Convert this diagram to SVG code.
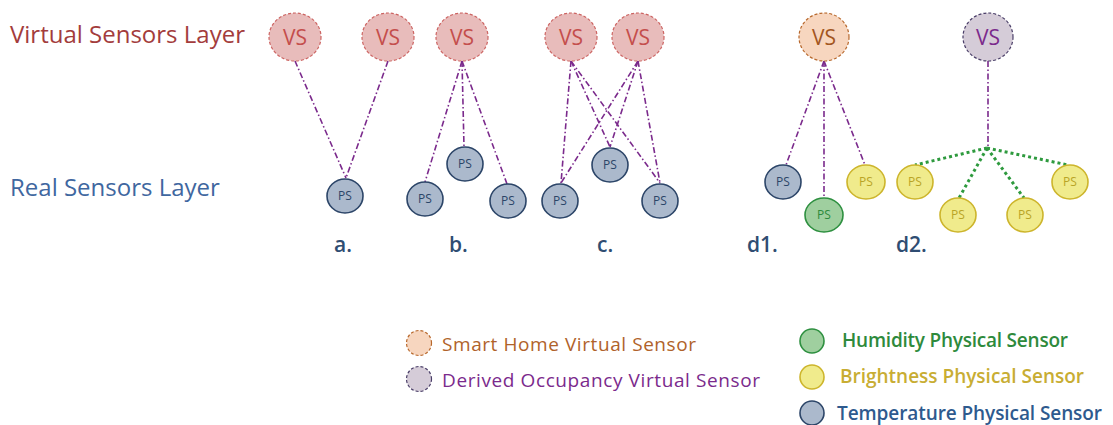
<svg xmlns="http://www.w3.org/2000/svg" width="1113" height="425" viewBox="0 0 1113 425">
<style>
text{font-family:"Open Sans","Liberation Sans",sans-serif}
.vs{stroke-width:1.2;stroke-dasharray:3 2}
.vsr{fill:#e8bcbb;stroke:#cc6462}
.vso{fill:#f7d6bf;stroke:#b8682c}
.vsp{fill:#d5ccd8;stroke:#4a3e68}
.vst{font-size:21px;text-anchor:middle}
.ps{stroke-width:1.6}
.pst{fill:#abb9cc;stroke:#2c4568}
.psh{fill:#9fcf9f;stroke:#2e9040}
.psb{fill:#f0eb8c;stroke:#cdb52c}
.pstx{font-size:12px;text-anchor:middle}
.conn{fill:none;stroke:#7b2a8c;stroke-width:1.6;stroke-dasharray:6 2.5 1.5 2.5}
.grn{fill:none;stroke:#2e9a3e;stroke-width:3;stroke-dasharray:3 3}
.layer{fill:none;stroke:#a04d25;stroke-width:3}
.lab{font-size:21px;fill:#2f4d72;font-weight:600}
.leg{font-size:19px}
</style>
<defs>
<filter id="sh" x="-10%" y="-10%" width="120%" height="140%"><feDropShadow dx="0" dy="1.5" stdDeviation="1" flood-color="#000" flood-opacity="0.25"/></filter>
</defs>
<g id="layer-titles">
<text x="10" y="43" font-size="24" fill="#a33c3c">Virtual Sensors Layer</text>
<text x="10" y="196" font-size="24" fill="#3f67a0">Real Sensors Layer</text>
</g>
<g id="layer-lines" filter="url(#sh)">
<line class="layer" x1="257" y1="108" x2="683" y2="108"/>
<line class="layer" x1="737" y1="108" x2="1079" y2="108"/>
</g>
<g id="connectors">
<line class="conn" x1="295" y1="61" x2="346" y2="178"/>
<line class="conn" x1="388" y1="61" x2="346" y2="178"/>
<line class="conn" x1="462" y1="61" x2="425" y2="182"/>
<line class="conn" x1="462" y1="61" x2="464" y2="147"/>
<line class="conn" x1="462" y1="61" x2="507" y2="184"/>
<line class="conn" x1="571" y1="61" x2="561" y2="183"/>
<line class="conn" x1="571" y1="61" x2="610" y2="147"/>
<line class="conn" x1="571" y1="61" x2="660" y2="183"/>
<line class="conn" x1="638" y1="61" x2="561" y2="183"/>
<line class="conn" x1="638" y1="61" x2="610" y2="147"/>
<line class="conn" x1="638" y1="61" x2="660" y2="183"/>
<line class="conn" x1="824" y1="61" x2="786" y2="165"/>
<line class="conn" x1="824" y1="61" x2="824" y2="198"/>
<line class="conn" x1="824" y1="61" x2="865" y2="165"/>
<line class="conn" x1="988" y1="61" x2="988" y2="148"/>
<line class="grn" x1="987" y1="148" x2="915" y2="165"/>
<line class="grn" x1="987" y1="148" x2="959" y2="198"/>
<line class="grn" x1="987" y1="148" x2="1024" y2="198"/>
<line class="grn" x1="987" y1="148" x2="1068" y2="165"/>
</g>
<g id="vs-a1"><ellipse class="vs vsr" cx="295" cy="37" rx="26" ry="24"/><text class="vst" x="295" y="45" fill="#c44e4c">VS</text></g>
<g id="vs-a2"><ellipse class="vs vsr" cx="388" cy="37" rx="26" ry="24"/><text class="vst" x="388" y="45" fill="#c44e4c">VS</text></g>
<g id="vs-b"><ellipse class="vs vsr" cx="462" cy="37" rx="26" ry="24"/><text class="vst" x="462" y="45" fill="#c44e4c">VS</text></g>
<g id="vs-c1"><ellipse class="vs vsr" cx="571" cy="37" rx="26" ry="24"/><text class="vst" x="571" y="45" fill="#c44e4c">VS</text></g>
<g id="vs-c2"><ellipse class="vs vsr" cx="638" cy="37" rx="26" ry="24"/><text class="vst" x="638" y="45" fill="#c44e4c">VS</text></g>
<g id="vs-d1"><ellipse class="vs vso" cx="824" cy="37" rx="25" ry="24"/><text class="vst" x="824" y="45" fill="#a3561f">VS</text></g>
<g id="vs-d2"><ellipse class="vs vsp" cx="988" cy="37" rx="25" ry="24"/><text class="vst" x="988" y="45" fill="#7b2a8c">VS</text></g>
<g id="ps-a"><ellipse class="ps pst" cx="345" cy="196" rx="18" ry="17"/><text class="pstx" x="345" y="200" fill="#2c4568">PS</text></g>
<g id="ps-b1"><ellipse class="ps pst" cx="425" cy="199" rx="18" ry="17"/><text class="pstx" x="425" y="203" fill="#2c4568">PS</text></g>
<g id="ps-b2"><ellipse class="ps pst" cx="465" cy="164" rx="18" ry="17"/><text class="pstx" x="465" y="168" fill="#2c4568">PS</text></g>
<g id="ps-b3"><ellipse class="ps pst" cx="508" cy="201" rx="18" ry="17"/><text class="pstx" x="508" y="205" fill="#2c4568">PS</text></g>
<g id="ps-c1"><ellipse class="ps pst" cx="560" cy="201" rx="18" ry="17"/><text class="pstx" x="560" y="205" fill="#2c4568">PS</text></g>
<g id="ps-c2"><ellipse class="ps pst" cx="610" cy="165" rx="18" ry="17"/><text class="pstx" x="610" y="169" fill="#2c4568">PS</text></g>
<g id="ps-c3"><ellipse class="ps pst" cx="660" cy="201" rx="18" ry="17"/><text class="pstx" x="660" y="205" fill="#2c4568">PS</text></g>
<g id="ps-d1-temp"><ellipse class="ps pst" cx="783" cy="182" rx="18" ry="17"/><text class="pstx" x="783" y="186" fill="#2c4568">PS</text></g>
<g id="ps-d1-hum"><ellipse class="ps psh" cx="824" cy="215" rx="19" ry="17"/><text class="pstx" x="824" y="219" fill="#2e8a3c">PS</text></g>
<g id="ps-d1-bri"><ellipse class="ps psb" cx="866" cy="182" rx="19" ry="17"/><text class="pstx" x="866" y="186" fill="#b9a426">PS</text></g>
<g id="ps-d2-b1"><ellipse class="ps psb" cx="915" cy="182" rx="18" ry="17"/><text class="pstx" x="915" y="186" fill="#b9a426">PS</text></g>
<g id="ps-d2-b2"><ellipse class="ps psb" cx="958" cy="215" rx="18" ry="17"/><text class="pstx" x="958" y="219" fill="#b9a426">PS</text></g>
<g id="ps-d2-b3"><ellipse class="ps psb" cx="1025" cy="215" rx="18" ry="17"/><text class="pstx" x="1025" y="219" fill="#b9a426">PS</text></g>
<g id="ps-d2-b4"><ellipse class="ps psb" cx="1070" cy="182" rx="18" ry="17"/><text class="pstx" x="1070" y="186" fill="#b9a426">PS</text></g>
<g id="case-labels">
<text class="lab" x="334" y="252">a.</text>
<text class="lab" x="449" y="252">b.</text>
<text class="lab" x="597" y="252">c.</text>
<text class="lab" x="747" y="252">d1.</text>
<text class="lab" x="896" y="252">d2.</text>
</g>
<g id="legend-smart-home"><circle class="vs vso" cx="419" cy="343" r="12.5"/><text class="leg" x="442" y="351" fill="#b0622a" textLength="254">Smart Home Virtual Sensor</text></g>
<g id="legend-derived"><circle class="vs vsp" cx="419" cy="379" r="12.5"/><text class="leg" x="442" y="387" fill="#7b2a8c" textLength="318">Derived Occupancy Virtual Sensor</text></g>
<g id="legend-humidity"><circle class="ps psh" cx="812" cy="341" r="12"/><text class="leg" x="842" y="347" fill="#2e8a3c" font-weight="600" textLength="226">Humidity Physical Sensor</text></g>
<g id="legend-brightness"><circle class="ps psb" cx="812" cy="377" r="12"/><text class="leg" x="840" y="383" fill="#c8ad33" font-weight="600" textLength="244">Brightness Physical Sensor</text></g>
<g id="legend-temperature"><circle class="ps pst" cx="812" cy="413" r="12"/><text class="leg" x="837" y="420" fill="#2e5a8e" font-weight="600" textLength="265">Temperature Physical Sensor</text></g>
</svg>
